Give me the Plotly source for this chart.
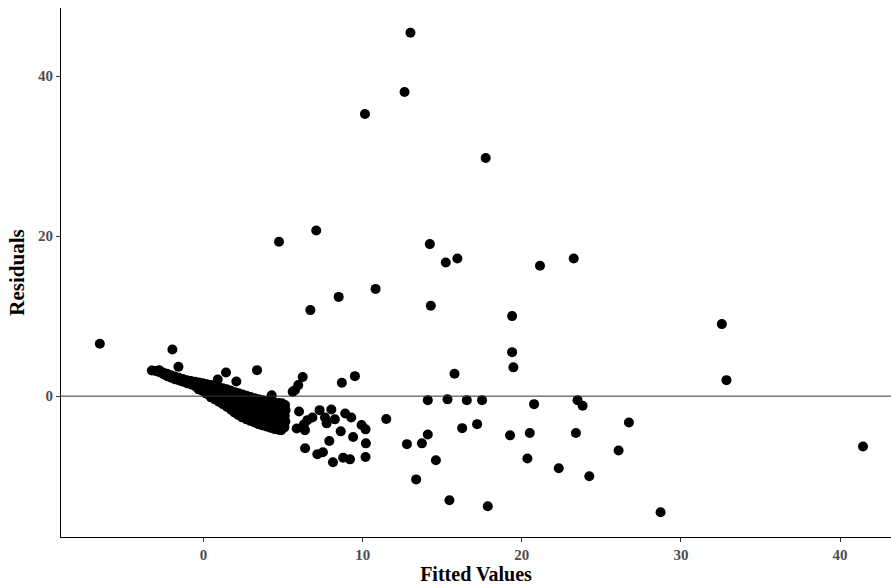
import plotly.graph_objects as go

# Observations away from the main band (fitted value, residual)
outlier_fitted = [
    -6.52, -1.96, -1.58, 1.41, 3.36, 2.06, 0.89, 4.28,
    5.60, 5.74, 5.95, 6.23, 8.69, 9.51,
    13.0, 12.63, 10.14, 7.08, 4.74, 14.22, 15.95, 15.22, 10.81, 8.49, 6.71,
    17.73, 21.14, 23.26, 14.28, 19.39, 32.57, 19.39, 19.47, 15.77, 32.86,
    14.09, 15.33, 16.54, 17.50, 20.77, 23.50, 23.82, 11.48, 26.73, 17.19,
    16.25, 14.09, 20.50, 23.40, 19.26, 12.78, 13.72, 41.44, 26.08, 14.60,
    20.35, 22.32, 24.24, 13.36, 15.45, 17.86, 28.72,
    6.00, 6.52, 6.84, 6.30, 5.85, 6.37, 7.29, 8.03, 7.63, 7.73, 8.25,
    8.90, 9.28, 8.62, 9.93, 10.18, 9.40, 7.90, 10.20, 6.38, 7.15, 7.50,
    8.13, 8.77, 9.20, 10.18,
]
outlier_resid = [
    6.55, 5.83, 3.67, 2.96, 3.25, 1.83, 2.08, 0.12,
    0.54, 0.75, 1.38, 2.40, 1.67, 2.50,
    45.4, 38.0, 35.25, 20.7, 19.3, 19.0, 17.2, 16.7, 13.4, 12.4, 10.75,
    29.75, 16.3, 17.2, 11.3, 10.0, 9.0, 5.5, 3.6, 2.8, 2.0,
    -0.5, -0.4, -0.5, -0.5, -1.0, -0.5, -1.2, -2.85, -3.3, -3.5,
    -4.0, -4.8, -4.6, -4.6, -4.9, -6.0, -5.9, -6.3, -6.8, -8.0,
    -7.8, -9.0, -10.0, -10.4, -13.0, -13.75, -14.5,
    -1.92, -3.0, -2.67, -3.54, -4.04, -4.25, -1.75, -1.67, -2.67, -3.4, -2.9,
    -2.16, -2.67, -4.4, -3.6, -4.15, -5.1, -5.6, -5.9, -6.5, -7.25, -7.0,
    -8.25, -7.7, -7.9, -7.6,
]

# Dense band of small fitted values
band_fitted = [
    -3.25, -3.02, -2.80, -2.78, -2.55, -2.52, -2.30, -2.28, -2.05, -2.03,
    -1.80, -1.78, -1.55, -1.53, -1.30, -1.28, -1.05, -1.02, -0.80, -0.78,
    -0.55, -0.52, -0.30, -0.28, -0.31, -0.05, -0.03, -0.06,
    0.20, 0.22, 0.18, 0.45, 0.47, 0.44, 0.46,
    0.70, 0.72, 0.69, 0.71, 0.95, 0.97, 0.94, 0.96,
    1.20, 1.22, 1.19, 1.21, 1.45, 1.47, 1.44, 1.46, 1.48,
    1.70, 1.72, 1.69, 1.71, 1.73, 1.95, 1.97, 1.94, 1.96, 1.98, 1.93,
    2.20, 2.22, 2.19, 2.21, 2.23, 2.18,
    2.45, 2.47, 2.44, 2.46, 2.48, 2.43,
    2.70, 2.72, 2.69, 2.71, 2.73, 2.68, 2.70,
    2.95, 2.97, 2.94, 2.96, 2.98, 2.93, 2.95,
    3.20, 3.22, 3.19, 3.21, 3.23, 3.18, 3.20,
    3.45, 3.47, 3.44, 3.46, 3.48, 3.43, 3.45,
    3.70, 3.72, 3.69, 3.71, 3.73, 3.68, 3.70,
    3.95, 3.97, 3.94, 3.96, 3.98, 3.93, 3.95,
    4.20, 4.22, 4.19, 4.21, 4.23, 4.18, 4.20,
    4.45, 4.47, 4.44, 4.46, 4.48, 4.43, 4.45,
    4.70, 4.72, 4.69, 4.71, 4.73, 4.68, 4.70,
    4.92, 4.95, 4.90, 4.96, 4.94, 4.91, 4.88,
    5.12, 5.15, 5.10, 5.14, 5.08,
]
band_resid = [
    3.20, 3.15, 3.25, 3.00, 2.95, 2.75, 2.80, 2.50, 2.60, 2.30,
    2.45, 2.10, 2.30, 1.95, 2.15, 1.80, 2.00, 1.60, 1.90, 1.45,
    1.80, 1.25, 1.70, 1.10, 0.85, 1.60, 1.00, 0.65,
    1.50, 0.90, 0.30, 1.40, 0.80, 0.20, -0.15,
    1.30, 0.70, 0.10, -0.40, 1.15, 0.55, -0.10, -0.70,
    1.00, 0.40, -0.30, -1.00, 0.85, 0.25, -0.35, -0.95, -1.35,
    0.70, 0.10, -0.50, -1.10, -1.70, 0.50, -0.10, -0.70, -1.30, -1.80, -2.05,
    0.35, -0.25, -0.85, -1.45, -2.00, -2.35,
    0.20, -0.40, -1.00, -1.60, -2.20, -2.65,
    0.05, -0.50, -1.10, -1.70, -2.30, -2.70, -2.90,
    -0.10, -0.70, -1.30, -1.90, -2.50, -2.90, -3.10,
    -0.25, -0.85, -1.45, -2.05, -2.65, -3.05, -3.30,
    -0.40, -1.00, -1.60, -2.20, -2.80, -3.20, -3.50,
    -0.50, -1.10, -1.70, -2.30, -2.90, -3.35, -3.65,
    -0.60, -1.20, -1.80, -2.40, -3.00, -3.50, -3.80,
    -0.70, -1.30, -1.90, -2.50, -3.10, -3.60, -3.95,
    -0.80, -1.40, -2.00, -2.60, -3.20, -3.70, -4.10,
    -0.85, -1.45, -2.05, -2.65, -3.25, -3.80, -4.20,
    -0.90, -1.50, -2.10, -2.70, -3.30, -3.85, -4.25,
    -1.10, -1.75, -2.45, -3.15, -3.90,
]

fitted = band_fitted + outlier_fitted
residuals = band_resid + outlier_resid

x_ticks = [0, 10, 20, 30, 40]
y_ticks = [0, 20, 40]

SERIF = "Liberation Serif, Times New Roman, serif"

fig = go.Figure()
fig.add_trace(go.Scatter(
    x=fitted, y=residuals, mode="markers",
    marker=dict(color="black", size=10, line=dict(width=0)),
    hoverinfo="x+y", showlegend=False,
))

# Reference line at zero residual
fig.add_shape(type="line", xref="paper", x0=0, x1=1, yref="y", y0=0, y1=0,
              line=dict(color="#333333", width=1))

axis_common = dict(
    showgrid=False, zeroline=False, showline=True, linecolor="black",
    linewidth=1, ticks="outside", ticklen=4, tickwidth=1, tickcolor="#333333",
    tickfont=dict(family=SERIF, size=15, color="#4D4D4D", weight="bold"),
)

fig.update_layout(
    width=891, height=585,
    margin=dict(l=61, r=0, t=8, b=48),
    paper_bgcolor="white", plot_bgcolor="white",
    xaxis=dict(range=[-8.96, 43.2], tickvals=x_ticks,
               ticktext=[str(v) for v in x_ticks],
               title=dict(text="Fitted Values", standoff=5,
                          font=dict(family=SERIF, size=20, color="black",
                                    weight="bold")),
               **axis_common),
    yaxis=dict(range=[-17.6, 48.5], tickvals=y_ticks,
               ticktext=[str(v) for v in y_ticks],
               title=dict(text="Residuals", standoff=7,
                          font=dict(family=SERIF, size=21, color="black",
                                    weight="bold")),
               **axis_common),
)

fig.write_html("out.html")
